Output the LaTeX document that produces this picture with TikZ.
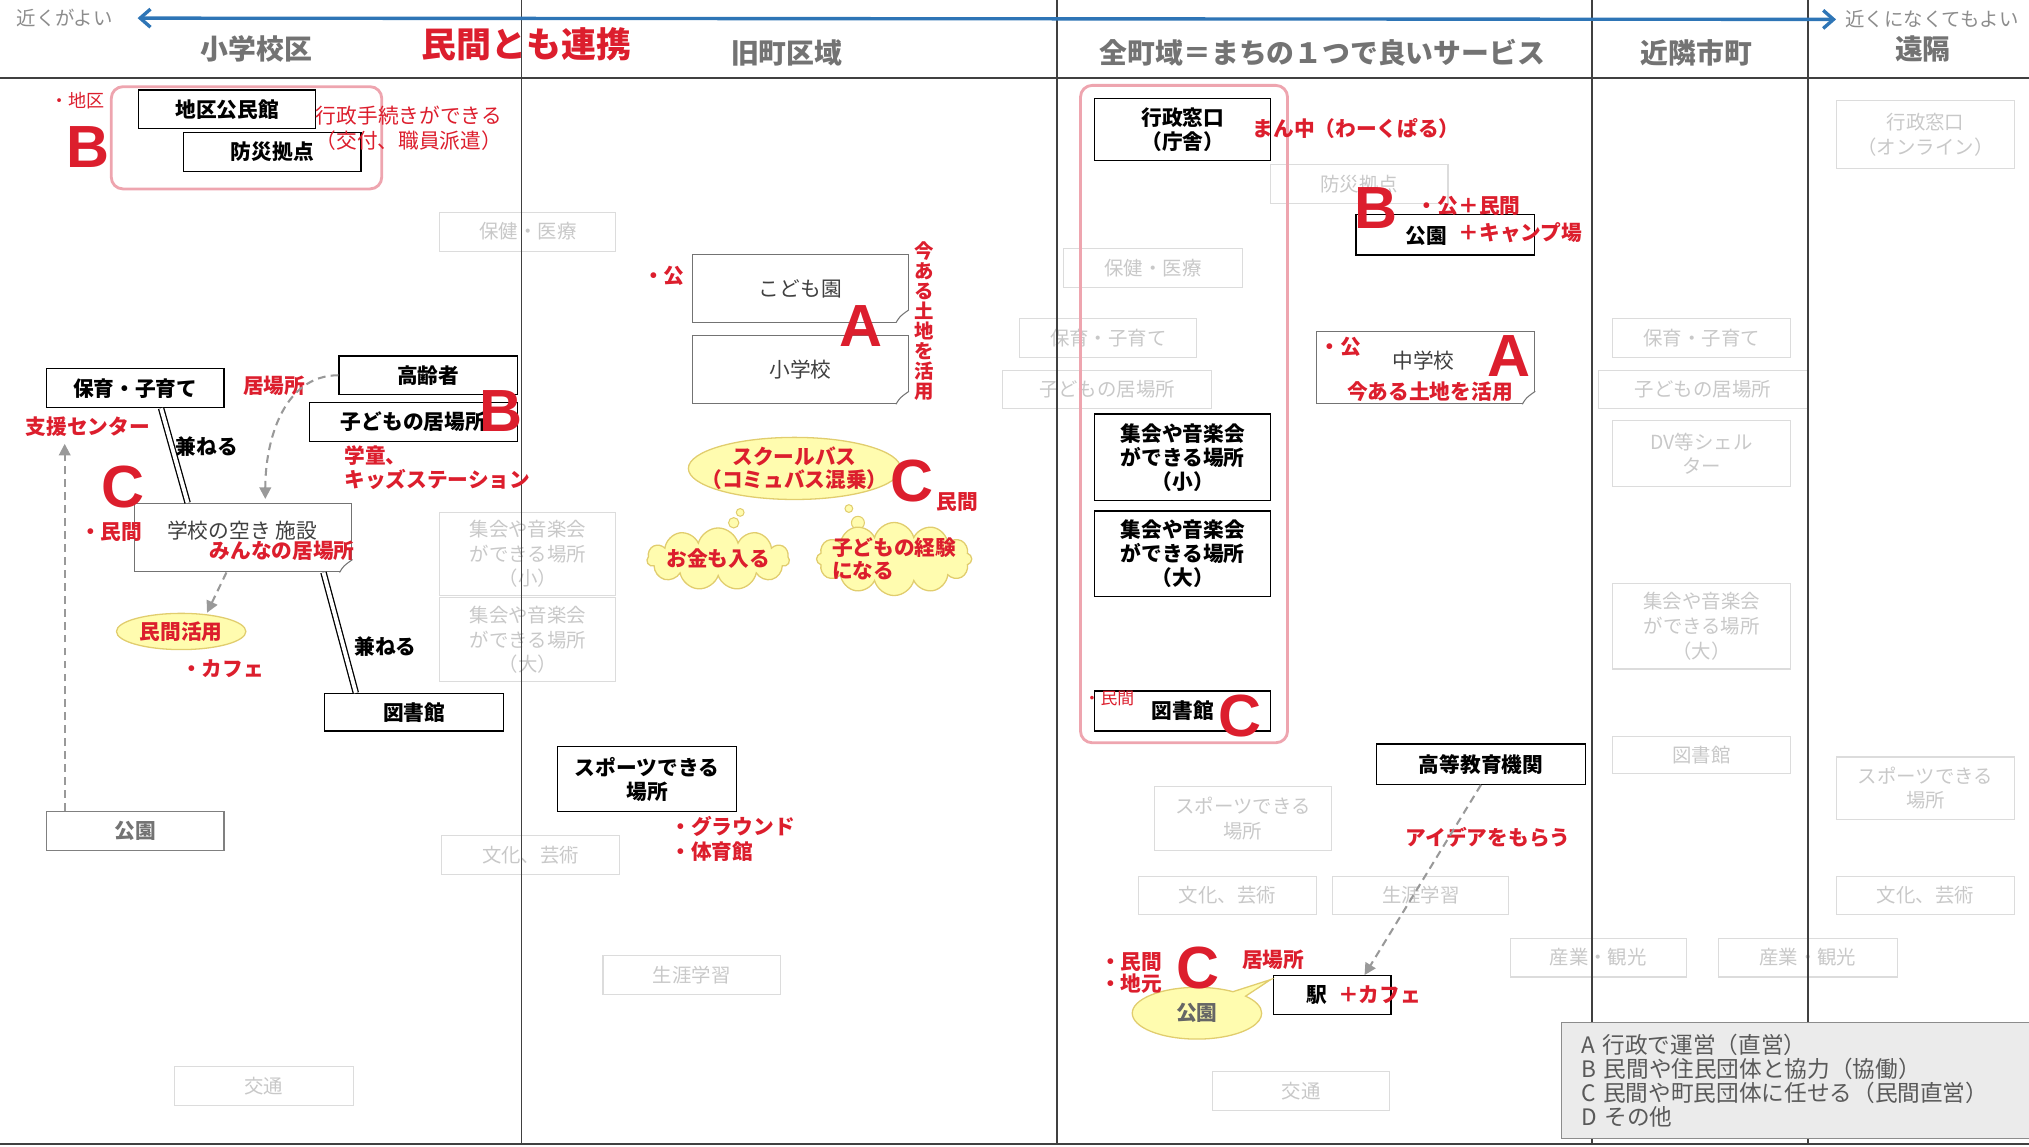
\documentclass[tikz,border=0pt]{standalone}
\usepackage{fontspec}
\setmainfont{Noto Sans CJK JP}
\newfontfamily\ltrfont{Liberation Sans}
\usetikzlibrary{positioning,arrows.meta,shapes.geometric,shapes.symbols,shapes.callouts}
\definecolor{mapred}{RGB}{220,30,45}
\definecolor{mapblue}{RGB}{46,117,182}
\definecolor{mappink}{RGB}{238,165,175}
\definecolor{mapyellow}{RGB}{255,252,175}
\definecolor{mapyline}{RGB}{225,205,110}
\definecolor{headgray}{RGB}{115,115,115}
\definecolor{fadegray}{RGB}{200,200,200}
\definecolor{fadeline}{RGB}{220,220,220}
\newcommand{\dogear}[1]{%
  \fill[white] ([yshift=10pt]#1.south east) -- ([xshift=1pt,yshift=-1pt]#1.south east) -- ([xshift=-10pt]#1.south east) -- cycle;
  \draw[black!55,line width=0.8pt] ([yshift=10pt]#1.south east) .. controls ([xshift=-7pt,yshift=5pt]#1.south east) .. ([xshift=-10pt]#1.south east);}

\begin{document}
\begin{tikzpicture}[x=1pt,y=-1pt,
  box/.style={draw=black,line width=1pt,fill=white,inner sep=0pt,align=center,minimum width=137pt,minimum height=30pt,font=\bfseries\fontsize{16}{18.5}\selectfont},
  paperbox/.style={draw=black!55,line width=0.8pt,fill=white,inner sep=0pt,minimum width=167pt,minimum height=52pt,text=black!75,font=\fontsize{16}{19}\selectfont},
  fadebox/.style={draw=fadeline,line width=0.8pt,text=fadegray,inner sep=0pt,align=center,minimum width=137pt,minimum height=30pt,font=\fontsize{15}{19}\selectfont},
  redtext/.style={text=mapred,inner sep=0pt,align=left,font=\bfseries\fontsize{16}{19}\selectfont},
  thinred/.style={text=mapred,inner sep=0pt,align=center,font=\fontsize{16}{19}\selectfont},
  plaintext/.style={inner sep=0pt,text=black!75,font=\fontsize{16}{19}\selectfont},
  boldtext/.style={inner sep=0pt,font=\bfseries\fontsize{16}{19}\selectfont},
  bigletter/.style={text=mapred,inner sep=0pt,font=\ltrfont\bfseries\fontsize{46}{46}\selectfont},
  headtext/.style={text=headgray,inner sep=0pt,font=\bfseries\fontsize{21.5}{24}\selectfont},
  pinkframe/.style={draw=mappink,line width=2.2pt,rounded corners=9pt},
  hintarrow/.style={draw=black!40,dash pattern=on 6pt off 4pt,line width=1.6pt,-{Triangle[length=9pt,width=9pt]}},
  doubleline/.style={draw=black,line width=1pt,double=white,double distance=3pt},
  bubble/.style={fill=mapyellow,draw=mapyline,line width=1pt,inner sep=0pt,text=mapred,align=center,font=\bfseries\fontsize{16}{18}\selectfont},
  divider/.style={draw=black!75,line width=1.4pt}]
\useasboundingbox (0,0) rectangle (1568,886);

% faded items (other areas)
\node[fadebox,minimum width=136pt] (hokenA) at (408,179) {保健・医療};
\node[fadebox,minimum width=136pt,minimum height=64pt] (shukaiA) at (408,428) {集会や音楽会\\ができる場所\\（小）};
\node[fadebox,minimum width=136pt,minimum height=65pt] (shukaiB) at (408,494.5) {集会や音楽会\\ができる場所\\（大）};
\node[fadebox,minimum width=138pt] (bunkaA) at (410,661) {文化、芸術};
\node[fadebox,minimum width=138pt] (kotsuA) at (204,839) {交通};
\node[fadebox] (shogaiA) at (534.5,753.5) {生涯学習};
\node[fadebox] (bosaiF) at (1050.5,142) {防災拠点};
\node[fadebox,minimum width=138pt] (hokenB) at (891,207) {保健・医療};
\node[fadebox] (hoikuB) at (856.5,261) {保育・子育て};
\node[fadebox,minimum width=161pt] (ibashoB) at (855.5,301) {子どもの居場所};
\node[fadebox,minimum height=49pt] (sportsB) at (960.5,632.5) {スポーツできる\\場所};
\node[fadebox] (bunkaB) at (948.5,692) {文化、芸術};
\node[fadebox,minimum width=136pt] (shogaiB) at (1098,692) {生涯学習};
\node[fadebox] (kotsuB) at (1005.5,843) {交通};
\node[fadebox,minimum width=136pt] (sangyoA) at (1235,740) {産業・観光};
\node[fadebox,minimum width=138pt] (hoikuC) at (1315,261) {保育・子育て};
\node[fadebox,minimum width=162pt] (ibashoC) at (1316,301) {子どもの居場所};
\node[fadebox,minimum width=138pt,minimum height=51pt] (dvC) at (1315,350.5) {DV等シェル\\ター};
\node[fadebox,minimum width=138pt,minimum height=66pt] (shukaiC) at (1315,484) {集会や音楽会\\ができる場所\\（大）};
\node[fadebox,minimum width=138pt,minimum height=29pt] (toshoC) at (1315,583.5) {図書館};
\node[fadebox,minimum width=138pt] (sangyoB) at (1397,740) {産業・観光};
\node[fadebox,minimum width=138pt,minimum height=52pt] (onlineD) at (1488,104) {行政窓口\\（オンライン）};
\node[fadebox,minimum width=138pt,minimum height=48pt] (sportsD) at (1488,609) {スポーツできる\\場所};
\node[fadebox,minimum width=138pt] (bunkaD) at (1488,692) {文化、芸術};

% grid
\draw[divider] (0,60) -- (1568,60);
\draw[divider] (0,884) -- (1568,884);
\foreach \xx in {403,817,1230,1397} \draw[divider] (\xx,0) -- (\xx,884);

% headers
\node[headtext] (hshogaku) at (198,38) {小学校区};
\node[headtext,text=mapred,font=\bfseries\fontsize{27}{30}\selectfont] (hrenkei) at (407,34) {民間とも連携};
\node[headtext] (hkyucho) at (608,41) {旧町区域};
\node[headtext] (hzencho) at (1022,41) {全町域＝まちの１つで良いサービス};
\node[headtext] (hkinrin) at (1311,41) {近隣市町};
\node[headtext] (henkaku) at (1486,38) {遠隔};
\node[inner sep=0pt,text=black!45,font=\fontsize{15}{18}\selectfont] (nearok) at (50,14) {近くがよい};
\node[inner sep=0pt,text=black!45,font=\fontsize{15}{18}\selectfont] (farok) at (1493,15) {近くになくてもよい};
\draw[mapblue,line width=2.6pt,{Straight Barb[length=8pt,width=14pt]}-{Straight Barb[length=8pt,width=14pt]},shorten <=19pt,shorten >=7pt] (nearok.east) -- (farok.west);

% elementary school area
\draw[pinkframe] (86,67) rectangle (295,146);
\node[box] (kominkan) at (175.5,84.5) {地区公民館};
\node[box] (bosai) at (210.5,117.5) {防災拠点};
\node[thinred,font=\fontsize{14}{17}\selectfont] (chiku) at (60,78) {・地区};
\node[bigletter] (ltrBa) at (68,114) {B};
\node[thinred] (tetsuzuki) at (316,99) {行政手続きができる\\（交付、職員派遣）};
\node[box] (hoiku) at (104.5,300) {保育・子育て};
\node[box,minimum width=138pt] (koreisha) at (331,290) {高齢者};
\node[box,minimum width=161pt] (ibasho) at (319.5,326) {子どもの居場所};
\node[bigletter] (ltrBb) at (387,318) {B};
\node[redtext] (ibashoLbl) at (212,298) {居場所};
\node[redtext,anchor=north west] (gakudo) at (266,344) {学童、\\キッズステーション};
\node[redtext] (shien) at (68,330) {支援センター};
\node[paperbox,minimum width=168pt,minimum height=53pt] (akichi) at (188,415.5) {};
\dogear{akichi}
\node[plaintext] (akichiLbl) at (187,410) {学校の空き 施設};
\node[redtext] (minna) at (218,426) {みんなの居場所};
\node[bigletter] (ltrCa) at (95,376) {C};
\node[redtext] (minkanA) at (86,411) {・民間};
\node[bubble,ellipse,minimum width=100pt,minimum height=28pt] (minkatsu) at (140,488) {民間活用};
\node[redtext] (cafe) at (172,517) {・カフェ};
\node[box,minimum width=138pt,minimum height=29pt] (toshoA) at (320,550.5) {図書館};
\node[box,draw=black!50,text=black!55] (koenA) at (104.5,642) {公園};
\node[boldtext] (kaneruA) at (160,345) {兼ねる};
\node[boldtext] (kaneruB) at (298,500) {兼ねる};
\coordinate (shienEnd) at (50,343);
\draw[doubleline] ([xshift=20pt]hoiku.south) -- ([xshift=-43pt]akichi.north);
\draw[doubleline] ([xshift=62pt]akichi.south) -- ([xshift=-45pt]toshoA.north);
\draw[hintarrow] (koreisha.west) to[out=180,in=90] ([xshift=17pt,yshift=3pt]akichi.north);
\draw[hintarrow] ([xshift=-13pt]akichi.south) -- ([xshift=20pt]minkatsu.north);
\draw[hintarrow] (koenA.north -| shienEnd) -- (shienEnd);

% old town area
\node[paperbox] (kodomoen) at (618.5,223) {こども園};
\dogear{kodomoen}
\node[paperbox,minimum height=53pt] (shogakko) at (618.5,285.5) {小学校};
\dogear{shogakko}
\node[redtext] (koA) at (513,213) {・公};
\node[bigletter] (ltrAa) at (665,252) {A};
\node[redtext,align=center,font=\bfseries\fontsize{15}{15.4}\selectfont] (imaaruV) at (714,248) {今\\あ\\る\\土\\地\\を\\活\\用};
\node[bubble,ellipse,inner xsep=-14pt,inner ysep=-8pt,minimum width=162pt,minimum height=48pt] (bus) at (614,362) {スクールバス\\（コミュバス混乗）};
\filldraw[fill=mapyellow,draw=mapyline,line width=0.8pt] (572,396) circle (3) (567,404) circle (4);
\filldraw[fill=mapyellow,draw=mapyline,line width=0.8pt] (656,393) circle (3) (663,404) circle (5);
\node[bubble,cloud,cloud puffs=11,cloud ignores aspect,inner xsep=-4pt,inner ysep=0pt,minimum width=110pt,minimum height=48pt] (okane) at (555,432) {お金も入る};
\node[bubble,cloud,cloud puffs=12,cloud ignores aspect,align=left,inner xsep=-8pt,inner ysep=-4pt,minimum width=120pt,minimum height=56pt] (keiken) at (691,432) {子どもの経験\\になる};
\node[bigletter] (ltrCb) at (705,372) {C};
\node[redtext] (minkanB) at (740,388) {民間};
\node[box,minimum width=138pt,minimum height=50pt] (sportsA) at (500,602) {スポーツできる\\場所};
\node[redtext,anchor=north west] (ground) at (518,631) {・グラウンド\\・体育館};

% whole town area
\draw[pinkframe] (835,66) rectangle (995,574);
\node[box,minimum width=136pt,minimum height=48pt] (gyosei) at (914,100) {行政窓口\\（庁舎）};
\node[redtext] (mannaka) at (1048,99) {まん中（わーくぱる）};
\node[box,minimum width=138pt,minimum height=31pt] (koenB) at (1117,181.5) {};
\node[boldtext] (koenBLbl) at (1102,182) {公園};
\node[redtext] (camp) at (1175,180) {＋キャンプ場};
\node[bigletter] (ltrBc) at (1063,161) {B};
\node[redtext] (koplus) at (1135,159) {・公＋民間};
\node[paperbox,minimum width=169pt,minimum height=56pt] (chugakko) at (1101.5,284) {};
\dogear{chugakko}
\node[redtext] (koB) at (1036,268) {・公};
\node[plaintext] (chugakkoLbl) at (1100,279) {中学校};
\node[bigletter] (ltrAb) at (1166,275) {A};
\node[redtext] (imaaruH) at (1105,303) {今ある土地を活用};
\node[box,minimum width=136pt,minimum height=67pt] (shukaiS) at (914,353.5) {集会や音楽会\\ができる場所\\（小）};
\node[box,minimum width=136pt,minimum height=66pt] (shukaiL) at (914,428) {集会や音楽会\\ができる場所\\（大）};
\node[box,minimum width=136pt,minimum height=31pt] (toshoB) at (914,549.5) {図書館};
\node[thinred,font=\fontsize{13}{15}\selectfont] (minkanC) at (857,540) {・民間};
\node[bigletter] (ltrCc) at (958,553) {C};
\node[box,minimum width=161pt,minimum height=31pt] (koto) at (1144.5,590.5) {高等教育機関};
\node[redtext] (idea) at (1150,647) {アイデアをもらう};
\node[box,minimum width=91pt] (eki) at (1029.5,769) {};
\node[boldtext] (ekiLbl) at (1018,769) {駅};
\node[redtext] (cafeB) at (1066,769) {＋カフェ};
\coordinate (bubtip) at (982,757);
\node[bubble,ellipse callout,callout absolute pointer={(bubtip)},minimum width=100pt,minimum height=40pt,text=black!60] (koenC) at (925,783) {公園};
\node[redtext,anchor=north west,font=\bfseries\fontsize{16}{17}\selectfont] (minkanD) at (850,736) {・民間\\・地元};
\node[bigletter] (ltrCd) at (926,748) {C};
\node[redtext] (ibashoC2) at (984,742) {居場所};
\draw[hintarrow] (koto.south) -- ([xshift=25pt]eki.north);

% legend
\node[draw=black!45,fill=black!8,line width=0.8pt,minimum width=361pt,minimum height=90pt,text width=331pt,align=left,inner sep=0pt,text=black!65,font=\fontsize{17.5}{18.5}\selectfont] (legend) at (1387.5,835) {A 行政で運営（直営）\\B 民間や住民団体と協力（協働）\\C 民間や町民団体に任せる（民間直営）\\D その他};
\end{tikzpicture}
\end{document}
